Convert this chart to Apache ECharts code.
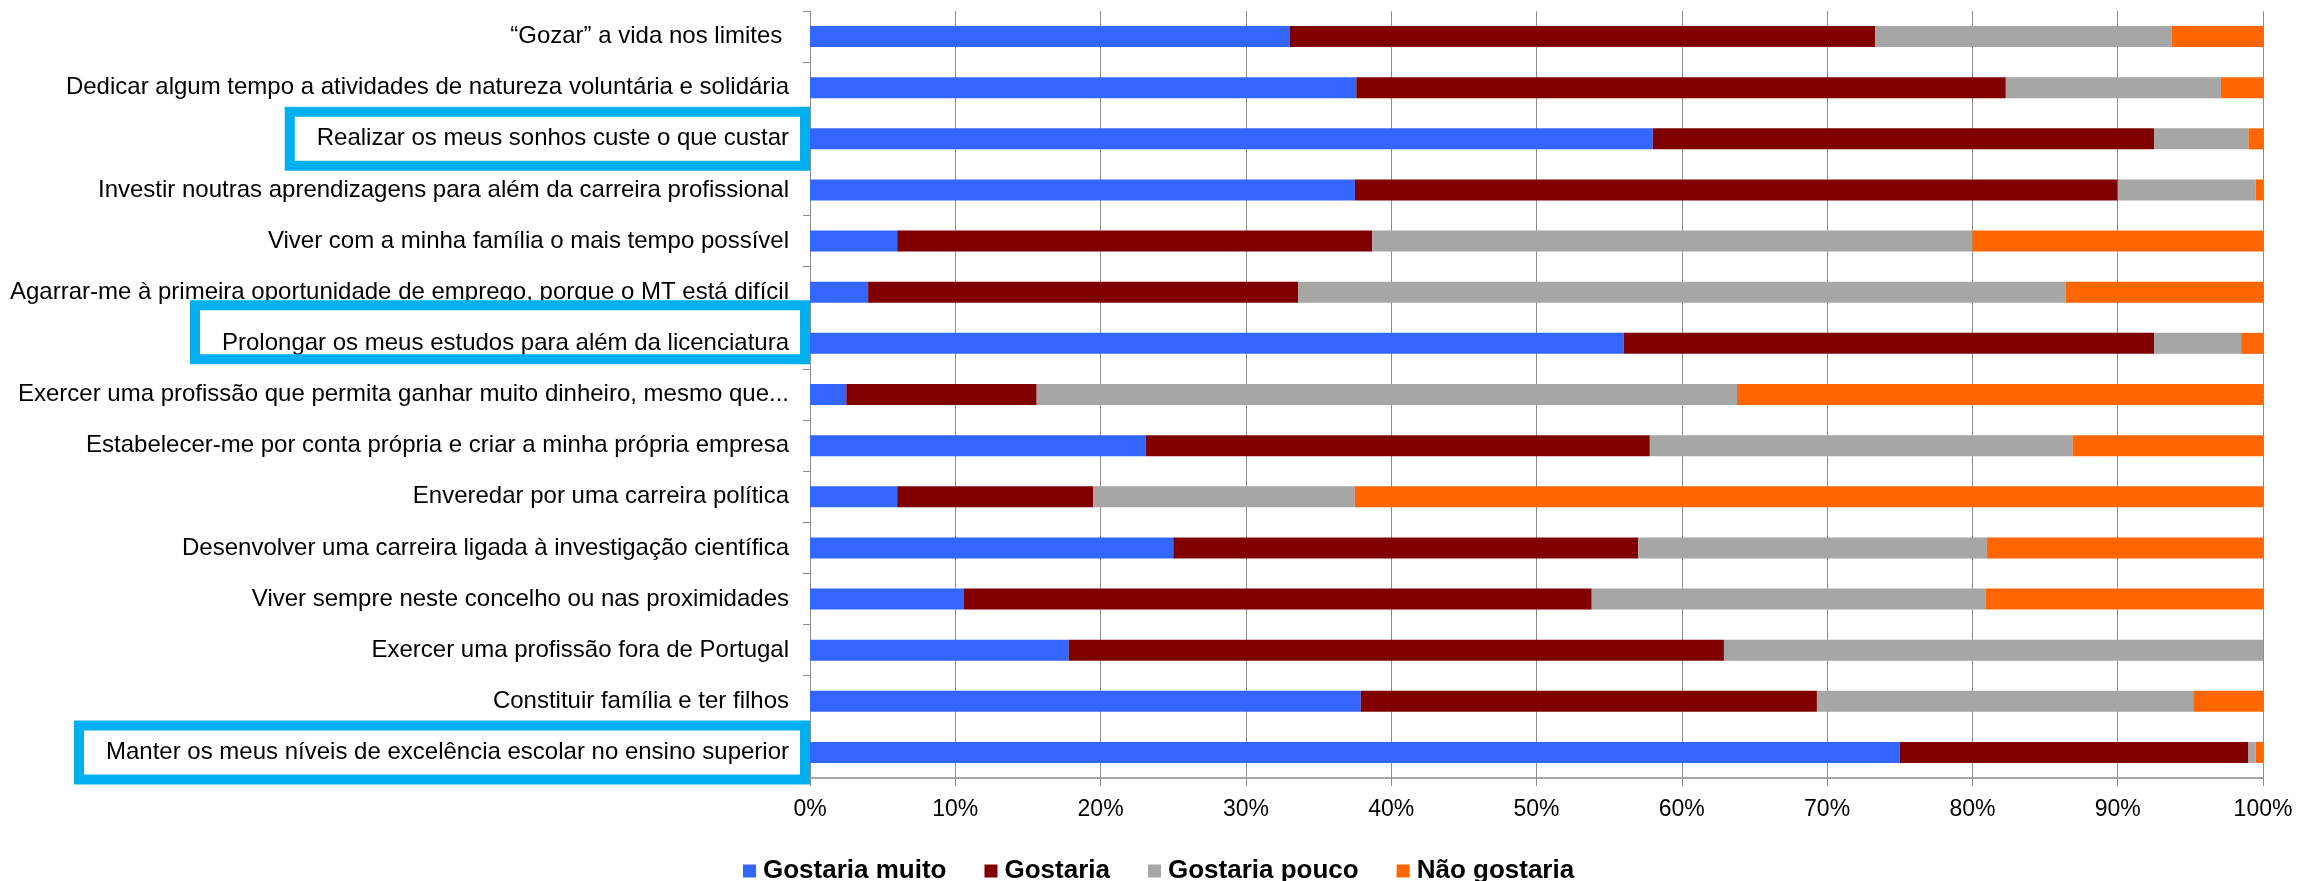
<!DOCTYPE html>
<html>
<head>
<meta charset="utf-8">
<script src="https://cdn.jsdelivr.net/npm/echarts@6/dist/echarts.min.js"></script>
<style>
  html, body { margin: 0; padding: 0; background: #fff; }
  #myChart { width: 2297px; height: 881px; }
</style>
</head>
<body>
<div id="myChart"></div>
<script>
// categorias (de cima para baixo)
const categorias = [
  '\u201CGozar\u201D a vida nos limites ',
  'Dedicar algum tempo a atividades de natureza voluntária e solidária',
  'Realizar os meus sonhos custe o que custar',
  'Investir noutras aprendizagens para além da carreira profissional',
  'Viver com a minha família o mais tempo possível',
  'Agarrar-me à primeira oportunidade de emprego, porque o MT está difícil',
  'Prolongar os meus estudos para além da licenciatura',
  'Exercer uma profissão que permita ganhar muito dinheiro, mesmo que...',
  'Estabelecer-me por conta própria e criar a minha própria empresa',
  'Enveredar por uma carreira política',
  'Desenvolver uma carreira ligada à investigação científica',
  'Viver sempre neste concelho ou nas proximidades',
  'Exercer uma profissão fora de Portugal',
  'Constituir família e ter filhos',
  'Manter os meus níveis de excelência escolar no ensino superior'
];

const gostariaMuito = [33.0, 37.6, 58.0, 37.5, 6.0, 4.0, 56.0, 2.5, 23.1, 6.0, 25.0, 10.6, 17.8, 37.9, 75.0];
const gostaria      = [40.3, 44.7, 34.5, 52.5, 32.7, 29.6, 36.5, 13.1, 34.7, 13.5, 32.0, 43.2, 45.1, 31.4, 24.0];
const gostariaPouco = [20.4, 14.8, 6.5, 9.5, 41.3, 52.8, 6.0, 48.2, 29.1, 18.0, 24.0, 27.1, 37.1, 25.9, 0.5];
const naoGostaria   = [6.3, 2.9, 1.0, 0.5, 20.0, 13.6, 1.5, 36.2, 13.1, 62.5, 19.0, 19.1, 0, 4.8, 0.5];

// categorias destacadas com caixa azul (indice, deslocamento vertical)
const destaques = [[2, 0], [6, -11], [14, 0]];

const fonte = "'Liberation Sans', Arial, sans-serif";
let Chart = echarts.init(document.getElementById('myChart'));

function serie(nome, dados, cor) {
  return {
    name: nome,
    type: 'bar',
    stack: 'total',
    barWidth: 21,
    animation: false,
    itemStyle: { color: cor },
    data: dados
  };
}

Chart.setOption({
  textStyle: { fontFamily: fonte },
  grid: { left: 810, right: 34, top: 11, bottom: 103 },
  legend: {
    left: 738,
    top: 853,
    itemWidth: 13,
    itemHeight: 13,
    itemGap: 38,
    icon: 'rect',
    textStyle: { fontSize: 26, fontWeight: 'bold', color: '#000', fontFamily: fonte, padding: [0, 0, 0, 2] },
    data: ['Gostaria muito', 'Gostaria', 'Gostaria pouco', 'Não gostaria']
  },
  xAxis: {
    type: 'value',
    min: 0,
    max: 100,
    interval: 10,
    axisLine: { show: true, lineStyle: { color: '#a6a6a6', width: 2 } },
    axisTick: { show: true, length: 8, lineStyle: { color: '#8c8c8c' } },
    splitLine: { show: true, lineStyle: { color: '#8c8c8c', width: 1 } },
    axisLabel: { formatter: '{value}%', fontSize: 23, color: '#000', margin: 20, fontFamily: fonte }
  },
  yAxis: {
    type: 'category',
    inverse: true,
    data: categorias,
    axisLine: { show: true, lineStyle: { color: '#8c8c8c', width: 1 } },
    axisTick: { show: true, length: 7, lineStyle: { color: '#8c8c8c' } },
    axisLabel: { fontSize: 24, color: '#000', margin: 21, fontFamily: fonte }
  },
  series: [
    serie('Gostaria muito', gostariaMuito, '#3366ff'),
    serie('Gostaria', gostaria, '#800000'),
    serie('Gostaria pouco', gostariaPouco, '#a6a6a6'),
    serie('Não gostaria', naoGostaria, '#ff6600')
  ]
});

// caixas azuis à volta das etiquetas destacadas
const ctx = document.createElement('canvas').getContext('2d');
ctx.font = '24px ' + fonte;
const x0 = Chart.convertToPixel({ xAxisIndex: 0 }, 0);
const caixas = destaques.map(function (d) {
  const y = Chart.convertToPixel({ yAxisIndex: 0 }, categorias[d[0]]) + d[1];
  const w = ctx.measureText(categorias[d[0]]).width;
  const esq = x0 - 21 - w - 32;
  return {
    type: 'rect',
    z: 100,
    shape: { x: esq + 5, y: y - 27, width: x0 - 5 - (esq + 5), height: 54 },
    style: { fill: null, stroke: '#00b0f0', lineWidth: 10 }
  };
});
Chart.setOption({ graphic: caixas });
</script>
</body>
</html>
